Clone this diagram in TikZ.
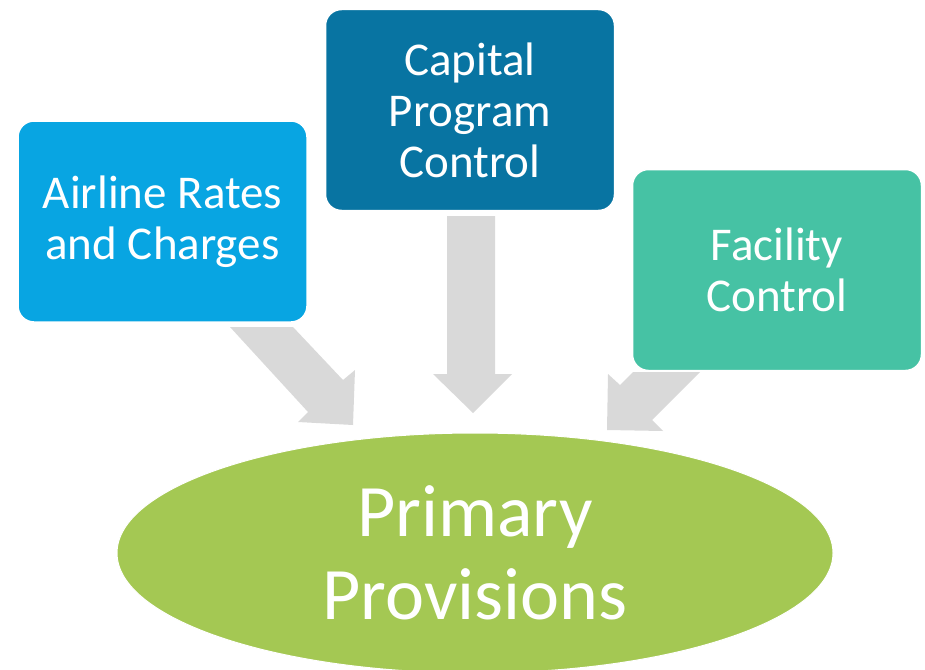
\documentclass[tikz,border=0pt]{standalone}
\usepackage{fontspec}
\setmainfont{Carlito}
\usetikzlibrary{shapes.geometric}
\definecolor{cblue}{RGB}{8,165,226}
\definecolor{cdark}{RGB}{8,116,162}
\definecolor{cteal}{RGB}{70,194,164}
\definecolor{cgreen}{RGB}{164,200,83}
\definecolor{cgray}{RGB}{217,217,217}
\tikzset{
  boxnode/.style={rectangle, rounded corners=16pt, draw=white, line width=1.5pt,
    minimum width=289pt, minimum height=201pt, inner sep=0pt, text=white,
    align=center, font=\fontsize{47}{51}\selectfont},
  ovalnode/.style={ellipse, draw=white, line width=1pt, fill=cgreen,
    minimum width=716pt, minimum height=240pt, inner sep=0pt, text=white,
    align=center, font=\fontsize{74}{83}\selectfont},
  blockarrow/.style={fill=cgray, draw=none}
}
\begin{document}
\begin{tikzpicture}[x=1pt,y=-1pt]
\useasboundingbox (0,0) rectangle (925,669);
\clip (0,0) rectangle (925,669);
% block arrows (drawn first, behind)
\fill[blockarrow] (230,327) -- (293,327) -- (343,380) -- (355,370) -- (353,425) -- (298,422) -- (308,412) -- cycle;
\fill[blockarrow] (447,216) -- (495,216) -- (495,374) -- (512,374) -- (473,413) -- (433,374) -- (447,374) -- cycle;
\fill[blockarrow] (633,372) -- (700,372) -- (652,420) -- (663,431) -- (607,430) -- (608,374) -- (620,385) -- cycle;
% boxes
\node[boxnode, fill=cblue] (airline) at (162.5,221.5) {Airline Rates\\and Charges};
\node[boxnode, fill=cdark] (capital) at (470,110) {Capital\\Program\\Control};
\node[boxnode, fill=cteal] (facility) at (777,270) {Facility\\Control};
% ellipse
\node[ovalnode] (primary) at (475,553) {Primary\\Provisions};
\end{tikzpicture}
\end{document}
